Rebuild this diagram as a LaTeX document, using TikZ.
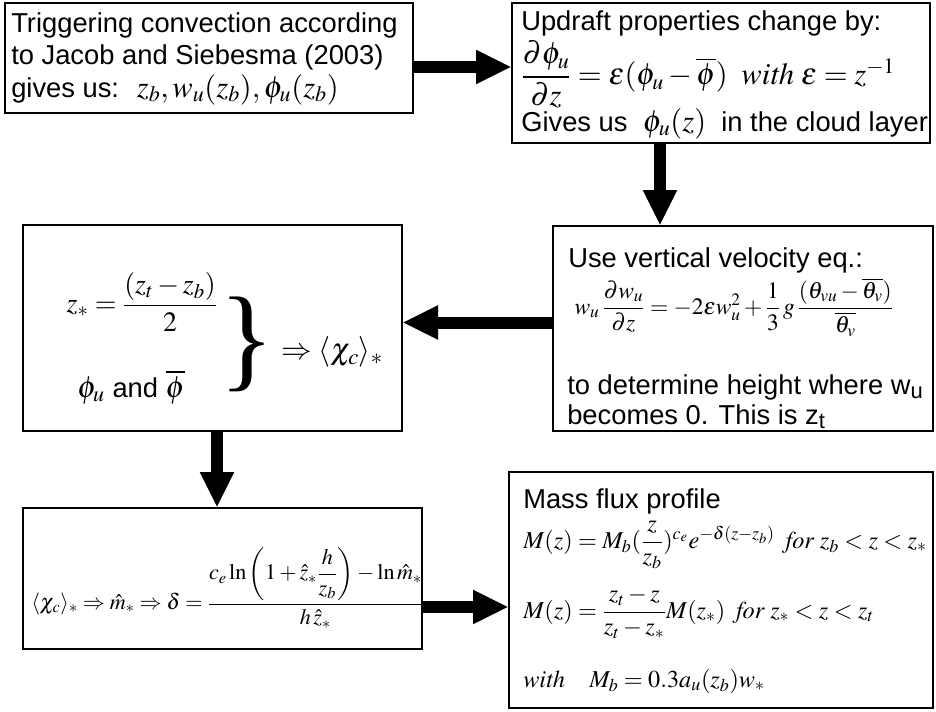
\documentclass[tikz,border=0pt]{standalone}
\usepackage{amsmath}
\usepackage{mathptmx}
\usepackage[no-math]{fontspec}
\setmainfont{Liberation Sans}
\newfontfamily\bracefont{Liberation Serif}
\DeclareMathSizes{20.5}{23}{16.5}{12.5}
\usetikzlibrary{arrows.meta,calc}

\tikzset{
  frame/.style={draw, line width=2pt, inner sep=0pt},
  bigarrow/.style={line width=9pt, -{Triangle[length=26pt,width=26pt,line width=0pt]}},
  txt/.style={inner sep=0pt, align=left, font=\fontsize{20.5}{24.4}\selectfont},
  eqn/.style={inner sep=0pt, font=\fontsize{18.2}{22}\selectfont},
}

\begin{document}
\begin{tikzpicture}[x=0.75pt,y=-0.75pt]
\useasboundingbox (0,0) rectangle (936,711);

% boxes
\node[frame, minimum width=306pt, minimum height=82.5pt] (b1) at (209,58) {};
\node[frame, minimum width=313.5pt, minimum height=105pt] (b2) at (721,73) {};
\node[frame, minimum width=284.25pt, minimum height=154.5pt] (b3) at (212.5,328) {};
\node[frame, minimum width=285pt, minimum height=153.75pt] (b4) at (743,328.5) {};
\node[frame, minimum width=299.25pt, minimum height=105.75pt] (b5) at (222.5,578.5) {};
\node[frame, minimum width=318pt, minimum height=177pt] (b6) at (721,590) {};

% texts
\node[txt, anchor=north west] (trig) at (11,12)
  {Triggering convection according\\ to Jacob and Siebesma (2003)\\
   gives us: \ $z_b, w_u(z_b), \phi_u(z_b)$};
\node[txt, anchor=north west] (updr) at (521,10)
  {Updraft properties change by:\\[3pt]
   $\dfrac{\partial\phi_u}{\partial z} = \varepsilon(\phi_u - \overline{\phi})\;\;\mathit{with}\;\varepsilon = z^{-1}$\\[-1pt]
   Gives us \ $\phi_u(z)$ \ in the cloud layer};

\node[txt, anchor=north west] (vel) at (568,247) {Use vertical velocity eq.:};
\node[eqn, font=\fontsize{17.6}{20}\selectfont] (veleq) at (734,307)
  {$w_u\,\dfrac{\partial w_u}{\partial z} = -2\varepsilon w_u^2 + \dfrac{1}{3}\,g\,\dfrac{(\theta_{vu}-\overline{\theta_v})}{\overline{\theta_v}}$};
\node[txt, anchor=north west, font=\fontsize{20.5}{22.5}\selectfont] (det) at (567,374)
  {to determine height where w\textsubscript{u}\\ becomes 0. This is z\textsubscript{t}};

\node[eqn, font=\fontsize{21}{24}\selectfont] (zstar) at (142,302)
  {$z_* = \dfrac{(z_t - z_b)}{2}$};
\node[txt, anchor=base west] (phis) at (77,397) {$\phi_u$ and $\overline{\phi}$};
\node[inner sep=0pt, font=\bracefont\fontsize{86}{86}\selectfont] (brc) at (247,344) {\}};
\node[eqn, font=\fontsize{23}{26}\selectfont, anchor=west] (chi) at (281,352)
  {$\Rightarrow\langle\chi_c\rangle_*$};

\node[eqn, font=\fontsize{16.6}{22}\selectfont, anchor=west] (delta) at (31,588)
  {$\langle\chi_c\rangle_* \Rightarrow \hat{m}_* \Rightarrow \delta = \dfrac{c_e\ln\left(1+\hat{z}_*\dfrac{h}{z_b}\right)-\ln\hat{m}_*}{h\,\hat{z}_*}$};

\node[txt, anchor=north west] (mass) at (523,488) {Mass flux profile};
\node[eqn, anchor=west] (mzA) at (523,545)
  {$M(z) = M_b(\dfrac{z}{z_b})^{c_e}e^{-\delta(z-z_b)}\;\;\mathit{for}\;z_b<z<z_*$};
\node[eqn, anchor=west] (mzB) at (523,613)
  {$M(z) = \dfrac{z_t - z}{z_t - z_*}M(z_*)\;\;\mathit{for}\;z_*<z<z_t$};
\node[eqn, anchor=base west] (mzC) at (523,687)
  {$\mathit{with}\quad M_b = 0.3a_u(z_b)w_*$};

% arrows
\draw[bigarrow] ($(b1.east)+(0,9)$) -- ($(b1.east -| b2.west)+(0,9)$);
\draw[bigarrow] ($(b2.south)+(-61,0)$) -- ($(b2.south |- b4.north)+(-61,0)$);
\draw[bigarrow] ($(b4.west)+(0,-6)$) -- ($(b4.west -| b3.east)+(0,-6)$);
\draw[bigarrow] ($(b3.south)+(4.5,0)$) -- ($(b3.south |- b5.north)+(4.5,0)$);
\draw[bigarrow] ($(b5.east)+(0,28.5)$) -- ($(b5.east -| b6.west)+(0,28.5)$);
\end{tikzpicture}
\end{document}
